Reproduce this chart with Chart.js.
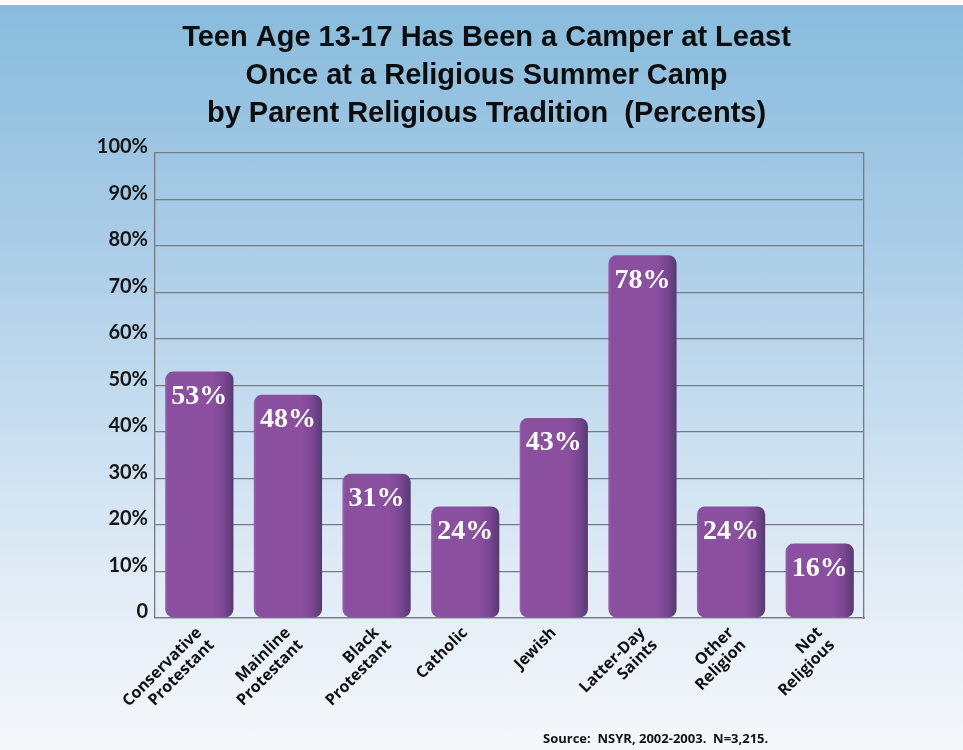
<!DOCTYPE html>
<html>
<head>
<meta charset="utf-8">
<script src="https://cdn.jsdelivr.net/npm/chart.js@4.4.1/dist/chart.umd.min.js"></script>
<style>
  html, body { margin: 0; padding: 0; background: #ffffff; }
  #wrap {
    position: relative; width: 963px; height: 750px; overflow: hidden;
  }
  #bg {
    position: absolute; left: 0; top: 5px; width: 963px; height: 745px;
    background: linear-gradient(to bottom, #88bcdd 0%, #a8cbe6 30%, #c6ddef 55%, #e2ecf6 78%, #f5f8fb 100%);
  }
  #chartBox { position: absolute; left: 0; top: 0; width: 963px; height: 750px; }
  #source {
    position: absolute; left: 543px; top: 729px;
    font: bold 13px "Open Sans", "DejaVu Sans", sans-serif; color: #111;
    white-space: pre;
  }
</style>
</head>
<body>
<div id="wrap">
  <div id="bg"></div>
  <div id="chartBox"><canvas id="grafica" width="963" height="750"></canvas></div>
  <div id="source">Source:  NSYR, 2002-2003.  N=3,215.</div>
</div>
<script>
// ==========================================
// DATOS
// ==========================================
const categorias = [
  ['Conservative', 'Protestant'],
  ['Mainline', 'Protestant'],
  ['Black', 'Protestant'],
  ['Catholic'],
  ['Jewish'],
  ['Latter-Day', 'Saints'],
  ['Other', 'Religion'],
  ['Not', 'Religious']
];
const porcentajes = [53, 48, 31, 24, 43, 78, 24, 16];
const etiquetasY = ['0', '10%', '20%', '30%', '40%', '50%', '60%', '70%', '80%', '90%', '100%'];
const titulo = [
  'Teen Age 13-17 Has Been a Camper at Least',
  'Once at a Religious Summer Camp',
  'by Parent Religious Tradition  (Percents)'
];

// gradiente horizontal para cada barra (efecto cilindro)
function colorBarra(context) {
  const chart = context.chart;
  const xScale = chart.scales.x;
  if (!xScale || !chart.chartArea) return '#8a4f9f';
  const centro = xScale.getPixelForValue(context.dataIndex);
  const ancho = (xScale.width / categorias.length) * 0.77;
  const x0 = centro - ancho / 2;
  const g = chart.ctx.createLinearGradient(x0, 0, x0 + ancho, 0);
  g.addColorStop(0, '#9a62ae');
  g.addColorStop(0.04, '#8a4f9f');
  g.addColorStop(0.7, '#8a4f9f');
  g.addColorStop(0.86, '#7a4692');
  g.addColorStop(1, '#553a70');
  return g;
}

// etiquetas de valor dentro de cada barra
const etiquetasValor = {
  id: 'etiquetasValor',
  afterDatasetsDraw(chart) {
    const ctx = chart.ctx;
    const meta = chart.getDatasetMeta(0);
    ctx.save();
    ctx.fillStyle = '#ffffff';
    ctx.font = 'bold 28px "Liberation Serif", "DejaVu Serif", serif';
    ctx.textAlign = 'center';
    ctx.textBaseline = 'middle';
    meta.data.forEach((bar, i) => {
      ctx.fillText(porcentajes[i] + '%', bar.x, bar.y + 25);
    });
    ctx.restore();
  }
};

const ctx = document.getElementById('grafica').getContext('2d');
new Chart(ctx, {
  type: 'bar',
  data: {
    labels: categorias,
    datasets: [{
      data: porcentajes,
      backgroundColor: colorBarra,
      borderWidth: 0,
      borderRadius: 8,
      borderSkipped: false,
      barPercentage: 0.77,
      categoryPercentage: 1.0
    }]
  },
  options: {
    responsive: false,
    animation: false,
    layout: { padding: { left: 10, right: 0, top: 0, bottom: 0 } },
    scales: {
      y: {
        min: 0,
        max: 100,
        afterFit: (scale) => { scale.width = 145; },
        ticks: {
          stepSize: 10,
          padding: 7,
          labelOffset: -6,
          color: '#161616',
          font: { family: 'Lato, "Open Sans", sans-serif', size: 20, weight: 'bold' },
          callback: (v, i) => etiquetasY[i]
        },
        grid: { color: '#767b82', lineWidth: 1.3, drawTicks: false },
        border: { display: true, color: '#767b82', width: 1.3 }
      },
      y2: {
        position: 'right',
        min: 0,
        max: 100,
        afterFit: (scale) => { scale.width = 99; },
        ticks: { display: false },
        grid: { display: false, drawTicks: false },
        border: { display: true, color: '#767b82', width: 1.3 }
      },
      x: {
        afterFit: (scale) => { scale.height = 132; },
        ticks: {
          minRotation: 45,
          maxRotation: 45,
          padding: 6,
          color: '#111111',
          font: { family: '"Open Sans", "DejaVu Sans", sans-serif', size: 16, weight: 'bold', lineHeight: 1.1 }
        },
        grid: { display: false, drawTicks: false },
        border: { display: true, color: '#767b82', width: 1.3 }
      }
    },
    plugins: {
      legend: { display: false },
      tooltip: { enabled: false },
      title: {
        display: true,
        text: titulo,
        color: '#0d0d0d',
        font: { family: '"Liberation Sans", Arial, sans-serif', size: 29, weight: 'bold', lineHeight: '38px' },
        padding: { top: 19, bottom: 20 }
      }
    }
  },
  plugins: [etiquetasValor]
});
</script>
</body>
</html>
